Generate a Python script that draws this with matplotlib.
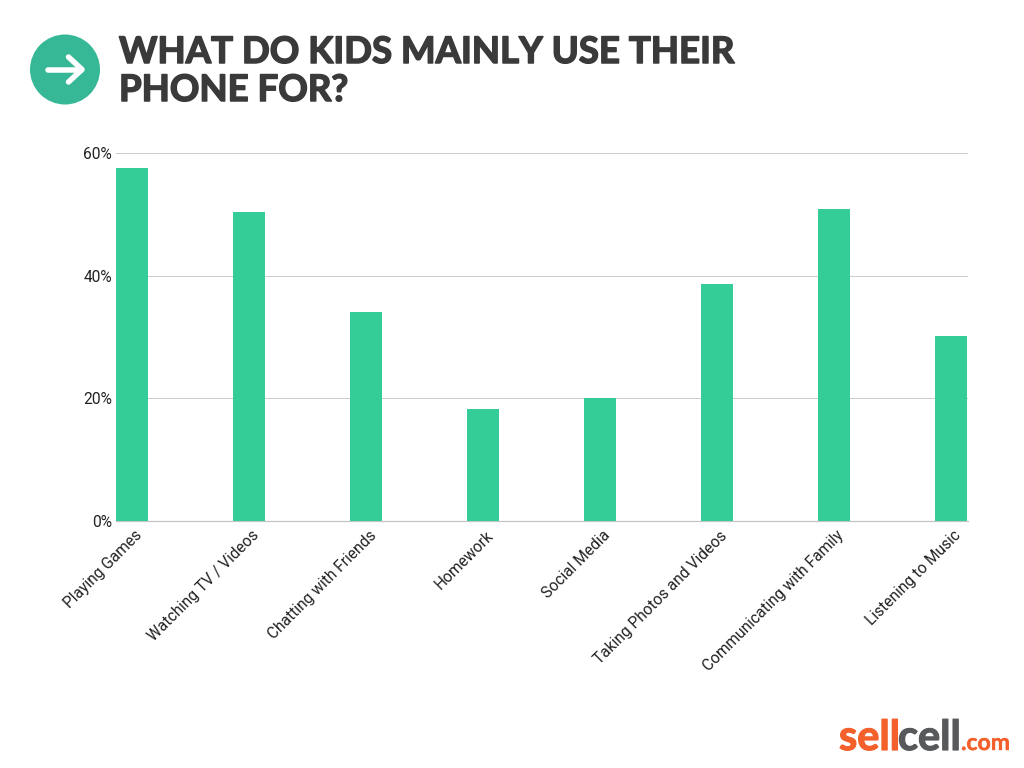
import matplotlib
matplotlib.use("Agg")
import matplotlib.pyplot as plt
from matplotlib.patches import Circle
from matplotlib.lines import Line2D
from matplotlib.transforms import ScaledTranslation
import matplotlib.patheffects as pe

categories = ["Playing Games", "Watching TV / Videos", "Chatting with Friends", "Homework",
              "Social Media", "Taking Photos and Videos", "Communicating with Family", "Listening to Music"]
values = [57.5, 50.4, 34.0, 18.3, 20.1, 38.7, 50.9, 30.2]
y_ticks = [0, 20, 40, 60]
y_labels = ["0%", "20%", "40%", "60%"]
title_lines = ["WHAT DO KIDS MAINLY USE THEIR", "PHONE FOR?"]

W, H = 1024, 768
fig = plt.figure(figsize=(W / 100, H / 100), dpi=100, facecolor="white")
px = 0.72  # points per pixel

ax = fig.add_axes([116 / W, 1 - 521 / H, 852 / W, 368 / H])
pitch = 117
bar_w = 31 / pitch
ax.bar(range(len(values)), values, width=bar_w, color="#34CD98", edgecolor="#34CD98",
       linewidth=1 * px, joinstyle="round", zorder=3)
ax.set_xlim(-15.5 / pitch, len(values) - 1 + 17.5 / pitch)
ax.set_ylim(0, 60)
ax.set_yticks(y_ticks, y_labels, fontsize=15.5 * px, family="Roboto", color="#222222")
ax.set_xticks(range(len(values)), categories, rotation=45, ha="right", va="top",
              rotation_mode="anchor", fontsize=15.5 * px, family="Roboto", color="#222222")
ax.tick_params(axis="both", length=0)
ax.tick_params(axis="y", pad=3)
ax.tick_params(axis="x", pad=5)
shift = ScaledTranslation(3 / 100, 0, fig.dpi_scale_trans)
for lab in ax.get_xticklabels():
    lab.set_transform(lab.get_transform() + shift)
ax.grid(axis="y", color="#CCCCCC", linewidth=1 * px, zorder=0)
ax.set_axisbelow(True)
for side in ["top", "right", "left"]:
    ax.spines[side].set_visible(False)
ax.spines["bottom"].set_color("#C4C4C4")
ax.spines["bottom"].set_linewidth(1.2 * px)

# Full-figure overlay in pixel coordinates for header and logo
ov = fig.add_axes([0, 0, 1, 1], facecolor="none")
ov.set_xlim(0, W)
ov.set_ylim(H, 0)
ov.axis("off")
ov.add_patch(Circle((65, 69.5), 35, color="#36B897", lw=0))
ov.add_line(Line2D([48, 81], [69.5, 69.5], color="white", lw=5.5 * px, solid_capstyle="round"))
ov.add_line(Line2D([68.5, 82, 68.5], [57, 69.5, 82], color="white", lw=5.5 * px,
                   solid_capstyle="round", solid_joinstyle="round"))

def bold_text(x, y, s, size, color, stroke):
    ov.text(x, y, s, fontsize=size * px, family="Lato", weight="bold", color=color,
            ha="left", va="baseline",
            path_effects=[pe.withStroke(linewidth=stroke * px, foreground=color)])

for line, y in zip(title_lines, [63, 101]):
    bold_text(119, y, line, 36.6, "#3A3A3A", 1.5)

bold_text(839, 750, "sell", 41.5, "#F4602B", 1.2)
bold_text(898, 750, "cell", 41.5, "#58595B", 1.2)
bold_text(961, 750, ".com", 23, "#F4602B", 0.4)

fig.savefig("out.png", dpi=100, facecolor="white")
